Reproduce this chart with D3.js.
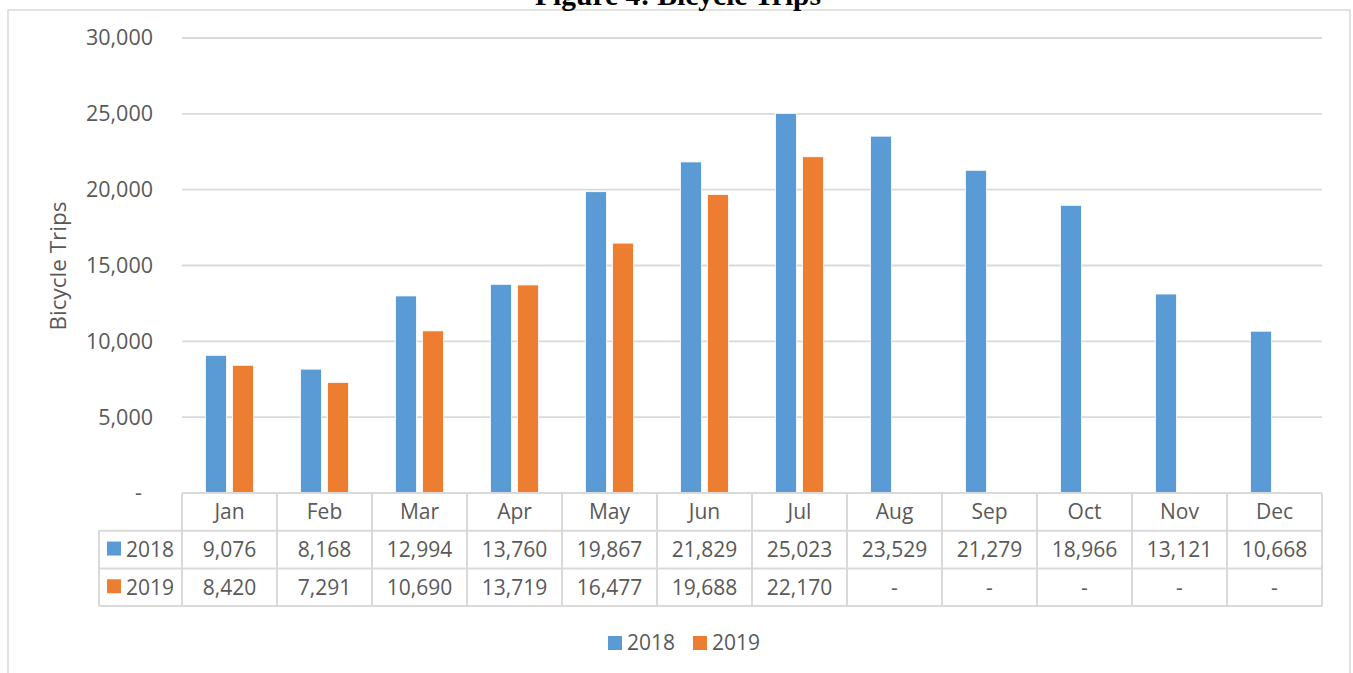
<!DOCTYPE html>
<html>
<head>
<meta charset="utf-8">
<script src="https://cdn.jsdelivr.net/npm/d3@7"></script>
<style>
  html, body { margin: 0; padding: 0; background: #fff; }
  svg { display: block; }
  text { font-family: "Open Sans", "Liberation Sans", sans-serif; fill: #595959; }
</style>
</head>
<body>
<svg id="chart" width="1353" height="673"></svg>
<script>
const months = ["Jan","Feb","Mar","Apr","May","Jun","Jul","Aug","Sep","Oct","Nov","Dec"];
const seriesNames = ["2018","2019"];
const values2018 = [9076, 8168, 12994, 13760, 19867, 21829, 25023, 23529, 21279, 18966, 13121, 10668];
const values2019 = [8420, 7291, 10690, 13719, 16477, 19688, 22170, null, null, null, null, null];
const yTicks = [0, 5000, 10000, 15000, 20000, 25000, 30000];
const colors = ["#5b9bd5", "#ed7d31"];
const titleText = "Figure 4: Bicycle Trips";
const yTitle = "Bicycle Trips";

const seriesValues = [values2018, values2019];
const svg = d3.select("#chart");
const W = 1353, H = 673;
const plotLeft = 182, plotRight = 1322, plotTop = 38, plotBottom = 493;
const rowH = 37.7;
const tableLeft = 99;
const fs = 21;
const gridColor = "#d9d9d9";

// outer chart frame
svg.append("rect").attr("x", 8).attr("y", 10).attr("width", 1342).attr("height", 700)
  .attr("fill", "none").attr("stroke", gridColor).attr("stroke-width", 1.5);

// title (cut at the top, as in the reference)
svg.append("text").attr("x", 678).attr("y", 5).attr("text-anchor", "middle")
  .style("font-family", "'Liberation Serif', 'Times New Roman', serif")
  .style("font-weight", "bold").style("font-size", "29.5px").style("fill", "#000")
  .text(titleText);

const x = d3.scaleBand().domain(months).range([plotLeft, plotRight]).padding(0);
const xInner = d3.scaleBand().domain(seriesNames).range([23.5, 71.5]).paddingInner(0.222);
const y = d3.scaleLinear().domain([0, 30000]).range([plotBottom, plotTop]);

// gridlines
svg.append("g").selectAll("line").data(yTicks.filter(d => d > 0)).join("line")
  .attr("x1", plotLeft).attr("x2", plotRight)
  .attr("y1", d => y(d)).attr("y2", d => y(d))
  .attr("stroke", gridColor).attr("stroke-width", 1.8);

// y axis labels
const fmt = d3.format(",");
const yAxis = d3.axisLeft(y).tickValues(yTicks).tickSize(0).tickPadding(29)
  .tickFormat(d => d === 0 ? "-" : fmt(d));
const yg = svg.append("g").attr("transform", `translate(${plotLeft},0)`).call(yAxis);
yg.select(".domain").remove();
yg.selectAll("text").style("font-size", "21.5px").style("fill", "#595959")
  .style("font-family", "'Open Sans', sans-serif");
yg.selectAll(".tick").filter(d => d === 0).select("text").attr("dx", -11);

// y title
svg.append("text").attr("transform", `translate(66,266) rotate(-90)`)
  .attr("text-anchor", "middle").style("font-size", "22.5px").text(yTitle);

// bars
seriesNames.forEach((s, si) => {
  const data = months.map((m, i) => ({ m, v: seriesValues[si][i] })).filter(d => d.v != null);
  svg.append("g").selectAll("rect").data(data).join("rect")
    .attr("x", d => x(d.m) + xInner(s))
    .attr("width", xInner.bandwidth())
    .attr("y", d => y(d.v))
    .attr("height", d => y(0) - y(d.v))
    .attr("fill", colors[si])
    .attr("stroke", "#fff").attr("stroke-width", 0.8);
});

// data table
const tg = svg.append("g");
const tableBottom = plotBottom + rowH * 3;
tg.append("line").attr("x1", plotLeft).attr("x2", plotRight).attr("y1", plotBottom).attr("y2", plotBottom)
  .attr("stroke", gridColor).attr("stroke-width", 2);
[1, 2, 3].forEach(r => {
  tg.append("line").attr("x1", tableLeft).attr("x2", plotRight)
    .attr("y1", plotBottom + rowH * r).attr("y2", plotBottom + rowH * r)
    .attr("stroke", gridColor).attr("stroke-width", 2);
});
const vx = months.map(m => x(m)).concat([plotRight]);
tg.selectAll("line.v").data(vx).join("line").attr("class", "v")
  .attr("x1", d => d).attr("x2", d => d).attr("y1", plotBottom).attr("y2", tableBottom)
  .attr("stroke", gridColor).attr("stroke-width", 2);
tg.append("line").attr("x1", tableLeft).attr("x2", tableLeft).attr("y1", plotBottom + rowH).attr("y2", tableBottom)
  .attr("stroke", gridColor).attr("stroke-width", 2);

// header
tg.selectAll("text.hdr").data(months).join("text").attr("class", "hdr")
  .attr("x", d => x(d) + x.bandwidth() / 2).attr("y", plotBottom + rowH / 2)
  .attr("dy", "0.35em").attr("text-anchor", "middle").style("font-size", fs + "px").text(d => d);

// rows
seriesNames.forEach((s, si) => {
  const cy = plotBottom + rowH * (si + 1) + rowH / 2;
  tg.append("rect").attr("x", 107).attr("y", cy - 8).attr("width", 14).attr("height", 14).attr("fill", colors[si]);
  tg.append("text").attr("x", 126).attr("y", cy).attr("dy", "0.35em").style("font-size", fs + "px").text(s);
  tg.selectAll("text.r" + si).data(months.map((m, i) => ({ m, v: seriesValues[si][i] }))).join("text")
    .attr("class", "r" + si)
    .attr("x", d => x(d.m) + x.bandwidth() / 2).attr("y", cy).attr("dy", "0.35em")
    .attr("text-anchor", "middle").style("font-size", fs + "px")
    .text(d => d.v == null ? "-" : fmt(d.v));
});

// legend
const lg = svg.append("g");
const legX = [608, 693];
seriesNames.forEach((s, si) => {
  lg.append("rect").attr("x", legX[si]).attr("y", 636).attr("width", 14).attr("height", 14).attr("fill", colors[si]);
  lg.append("text").attr("x", legX[si] + 19).attr("y", 643).attr("dy", "0.35em").style("font-size", fs + "px").text(s);
});
</script>
</body>
</html>
